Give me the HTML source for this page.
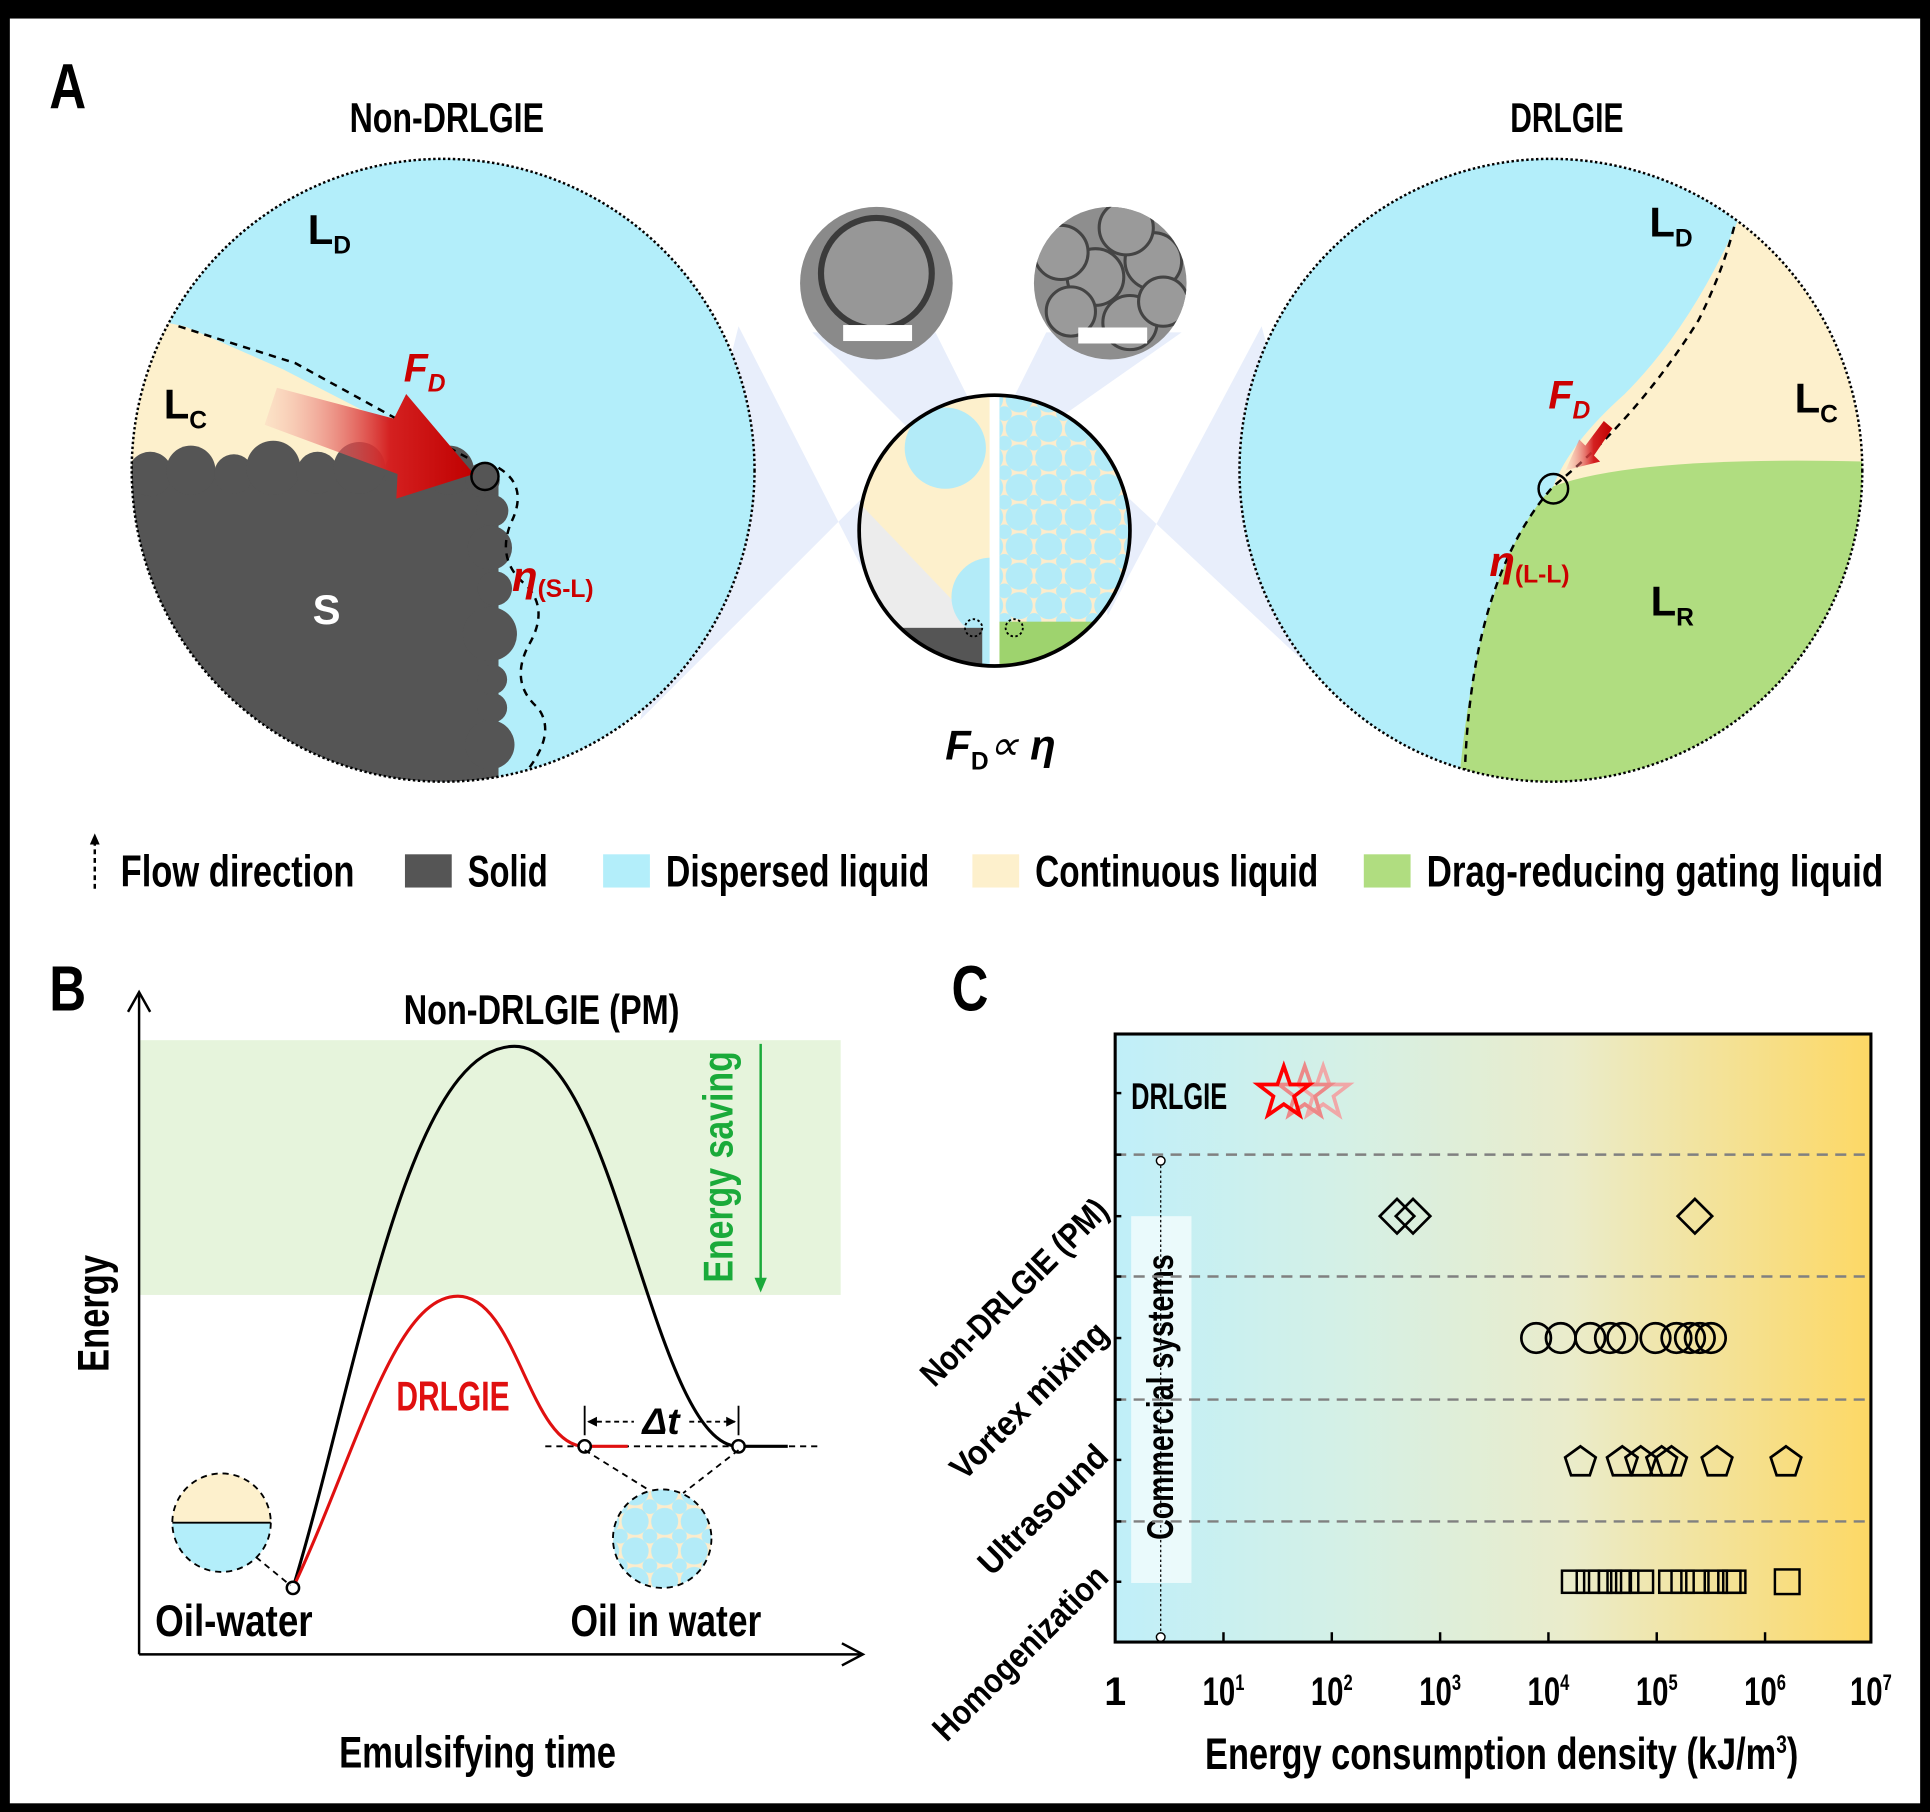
<!DOCTYPE html>
<html><head><meta charset="utf-8"><style>
html,body{margin:0;padding:0;background:#000}
svg{display:block}
text{font-family:"Liberation Sans Narrow","Liberation Sans",sans-serif;font-weight:bold}
</style></head><body>
<svg width="1930" height="1812" viewBox="0 0 1568 1472" xmlns="http://www.w3.org/2000/svg">
<defs>
<clipPath id="cl"><circle cx="360" cy="382" r="253"/></clipPath>
<clipPath id="cr"><circle cx="1260" cy="382" r="253"/></clipPath>
<clipPath id="cs"><circle cx="808" cy="431" r="110"/></clipPath>
<clipPath id="cs2"><circle cx="180" cy="1237" r="40"/></clipPath>
<clipPath id="cs3"><circle cx="538" cy="1250" r="40"/></clipPath>
<clipPath id="cs4"><circle cx="902" cy="230" r="62"/></clipPath>
<linearGradient id="ra" x1="0" y1="0" x2="1" y2="0"><stop offset="0" stop-color="#f7b0b0" stop-opacity="0.2"/><stop offset="0.6" stop-color="#d42020"/><stop offset="1" stop-color="#c00000"/></linearGradient>
<linearGradient id="bg" x1="0" y1="0" x2="1" y2="0"><stop offset="0" stop-color="#c0eff9"/><stop offset="0.3" stop-color="#d4f0e6"/><stop offset="0.6" stop-color="#eaeccb"/><stop offset="1" stop-color="#fdd865"/></linearGradient>
<pattern id="bub" width="24" height="24" patternUnits="userSpaceOnUse"><rect width="24" height="24" fill="#fdeccc"/><circle cx="12" cy="12" r="11" fill="#b3ebf8"/><circle cx="0" cy="0" r="6" fill="#b3ebf8"/><circle cx="24" cy="0" r="6" fill="#b3ebf8"/><circle cx="0" cy="24" r="6" fill="#b3ebf8"/><circle cx="24" cy="24" r="6" fill="#b3ebf8"/></pattern>
</defs>
<rect x="0" y="0" width="1568" height="1472" fill="#000"/>
<rect x="8" y="15" width="1552" height="1450" fill="#fff"/>

<text x="40" y="88" font-size="52" textLength="30" lengthAdjust="spacingAndGlyphs">A</text>
<text x="363" y="107" font-size="34" text-anchor="middle" textLength="158" lengthAdjust="spacingAndGlyphs">Non-DRLGIE</text>
<text x="1273" y="107" font-size="34" text-anchor="middle" textLength="92" lengthAdjust="spacingAndGlyphs">DRLGIE</text>

<polygon points="600,265 520,585 735,370 720,500" fill="#e8eefb"/>
<polygon points="1025,265 1110,585 880,370 900,500" fill="#e8eefb"/>
<polygon points="660,270 760,270 790,330 740,350" fill="#e8eefb"/>
<polygon points="850,270 960,270 860,340 820,330" fill="#e8eefb"/>

<g clip-path="url(#cl)">
<rect x="100" y="120" width="520" height="520" fill="#b3eefa"/>
<polygon points="100,255 150,265 230,300 395,385 100,385" fill="#fdf0cc"/>
<rect x="100" y="382" width="305" height="260" fill="#555"/>
<g fill="#555">
<circle cx="122" cy="385" r="18"/><circle cx="155" cy="382" r="20"/><circle cx="190" cy="385" r="16"/><circle cx="222" cy="380" r="22"/><circle cx="258" cy="384" r="17"/><circle cx="292" cy="380" r="21"/><circle cx="330" cy="384" r="18"/><circle cx="365" cy="382" r="20"/><circle cx="392" cy="390" r="14"/>
<circle cx="400" cy="415" r="13"/><circle cx="398" cy="445" r="18"/><circle cx="402" cy="478" r="14"/><circle cx="398" cy="515" r="22"/><circle cx="400" cy="552" r="12"/><circle cx="400" cy="575" r="12"/><circle cx="398" cy="605" r="20"/>
</g>
<path d="M145,265 L240,295 L380,372" stroke="#000" stroke-width="2" stroke-dasharray="6,5" fill="none"/>
<path d="M405,380 q25,15 10,45 q-12,30 12,50 q20,20 2,50 q-15,30 8,50 q15,20 -8,50 q-15,20 4,40" stroke="#000" stroke-width="2" stroke-dasharray="6,5" fill="none"/>
</g>
<circle cx="360" cy="382" r="253" fill="none" stroke="#000" stroke-width="2" stroke-dasharray="2,2"/>
<polygon points="225,315 320,340 330,320 385,385 322,405 323,385 215,345" fill="url(#ra)"/>
<circle cx="394" cy="387" r="11" fill="none" stroke="#000" stroke-width="2"/>
<text x="250" y="198" font-size="34">L<tspan font-size="20" dy="8">D</tspan></text>
<text x="133" y="340" font-size="34">L<tspan font-size="20" dy="8">C</tspan></text>
<text x="254" y="507" font-size="34" fill="#fff">S</text>
<text x="328" y="310" font-size="32" fill="#c00" font-style="italic">F<tspan font-size="20" dy="8">D</tspan></text>
<text x="416" y="480" font-size="34" fill="#c00" font-style="italic">η<tspan font-size="20" dy="5" font-style="normal">(S-L)</tspan></text>

<g clip-path="url(#cr)">
<rect x="1000" y="120" width="520" height="520" fill="#b3eefa"/>
<path d="M1420,160 Q1380,260 1320,320 Q1275,360 1262,395 L1515,378 L1520,150 Z" fill="#fdf0cc"/>
<path d="M1185,640 Q1200,460 1262,395 Q1330,370 1520,375 L1520,640 Z" fill="#b0dd80"/>
<path d="M1190,630 Q1195,470 1262,395 Q1330,340 1380,260 Q1400,220 1410,180" stroke="#000" stroke-width="2" stroke-dasharray="6,5" fill="none"/>
</g>
<circle cx="1260" cy="382" r="253" fill="none" stroke="#000" stroke-width="2" stroke-dasharray="2,2"/>
<polygon points="1310,348 1295,370 1300,375 1272,382 1283,357 1288,362 1303,342" fill="url(#ra)"/>
<circle cx="1262" cy="397" r="12" fill="none" stroke="#000" stroke-width="2"/>
<text x="1340" y="192" font-size="34">L<tspan font-size="20" dy="8">D</tspan></text>
<text x="1458" y="335" font-size="34">L<tspan font-size="20" dy="8">C</tspan></text>
<text x="1341" y="500" font-size="34">L<tspan font-size="20" dy="8">R</tspan></text>
<text x="1258" y="332" font-size="32" fill="#c00" font-style="italic">F<tspan font-size="20" dy="8">D</tspan></text>
<text x="1210" y="468" font-size="34" fill="#c00" font-style="italic">η<tspan font-size="20" dy="5" font-style="normal">(L-L)</tspan></text>

<circle cx="712" cy="230" r="62" fill="#8a8a8a"/>
<circle cx="712" cy="222" r="45" fill="#999" stroke="#333" stroke-width="5" opacity="0.9"/>
<rect x="685" y="264" width="56" height="13" fill="#fff"/>
<circle cx="902" cy="230" r="62" fill="#8e8e8e"/>
<g clip-path="url(#cs4)" fill="#9a9a9a" stroke="#444" stroke-width="2.5">
<circle cx="890" cy="225" r="23"/><circle cx="937" cy="212" r="23"/><circle cx="862" cy="205" r="22"/><circle cx="915" cy="185" r="22"/><circle cx="870" cy="253" r="20"/><circle cx="918" cy="262" r="22"/><circle cx="945" cy="245" r="20"/>
</g>
<rect x="876" y="266" width="56" height="13" fill="#fff"/>

<g clip-path="url(#cs)">
<rect x="690" y="315" width="118" height="235" fill="#fdf0cc"/>
<polygon points="690,400 800,515 690,515" fill="#ececec"/>
<circle cx="768" cy="364" r="33" fill="#b3ebf8"/>
<circle cx="805" cy="485" r="32" fill="#b3ebf8"/>
<rect x="690" y="510" width="110" height="45" fill="#555"/>
<rect x="798" y="500" width="10" height="60" fill="#b3ebf8"/>
<rect x="808" y="315" width="120" height="235" fill="url(#bub)"/>
<rect x="808" y="505" width="120" height="45" fill="#9ed36e"/>
<rect x="804" y="315" width="8" height="235" fill="#fff"/>
</g>
<circle cx="808" cy="431" r="110" fill="none" stroke="#000" stroke-width="3"/>
<circle cx="791" cy="510" r="7" fill="none" stroke="#000" stroke-width="1.5" stroke-dasharray="2,2"/>
<circle cx="824" cy="510" r="7" fill="none" stroke="#000" stroke-width="1.5" stroke-dasharray="2,2"/>
<text x="768" y="617" font-size="34" font-style="italic">F<tspan font-size="20" dy="8" font-style="normal">D</tspan><tspan dy="-8" font-weight="normal">∝</tspan> η</text>

<line x1="77" y1="683" x2="77" y2="725" stroke="#000" stroke-width="2" stroke-dasharray="4,3"/>
<polygon points="73,686 77,677 81,686" fill="#000"/>
<text x="98" y="720" font-size="36" textLength="190" lengthAdjust="spacingAndGlyphs">Flow direction</text>
<rect x="329" y="694" width="38" height="27" fill="#555"/>
<text x="380" y="720" font-size="36" textLength="65" lengthAdjust="spacingAndGlyphs">Solid</text>
<rect x="490" y="694" width="38" height="27" fill="#b3eefa"/>
<text x="541" y="720" font-size="36" textLength="214" lengthAdjust="spacingAndGlyphs">Dispersed liquid</text>
<rect x="790" y="694" width="38" height="27" fill="#fdf0cc"/>
<text x="841" y="720" font-size="36" textLength="230" lengthAdjust="spacingAndGlyphs">Continuous liquid</text>
<rect x="1108" y="694" width="38" height="27" fill="#b0dd80"/>
<text x="1159" y="720" font-size="36" textLength="371" lengthAdjust="spacingAndGlyphs">Drag-reducing gating liquid</text>

<text x="40" y="821" font-size="52" textLength="30" lengthAdjust="spacingAndGlyphs">B</text>
<rect x="113" y="845" width="570" height="207" fill="#e6f4dc"/>
<line x1="113" y1="1344" x2="113" y2="808" stroke="#000" stroke-width="2"/>
<polyline points="104,822 113,806 122,822" fill="none" stroke="#000" stroke-width="2"/>
<line x1="113" y1="1344" x2="700" y2="1344" stroke="#000" stroke-width="2"/>
<polyline points="684,1335 701,1344 684,1353" fill="none" stroke="#000" stroke-width="2"/>
<text x="440" y="832" font-size="34" text-anchor="middle" textLength="224" lengthAdjust="spacingAndGlyphs">Non-DRLGIE (PM)</text>
<line x1="443" y1="1175" x2="665" y2="1175" stroke="#000" stroke-width="1.5" stroke-dasharray="5,4"/>
<path d="M238,1290 C290,1120 330,850 418,850 C500,850 530,1175 600,1175 L640,1175" fill="none" stroke="#000" stroke-width="2.5"/>
<path d="M238,1290 C290,1180 320,1053 372,1053 C420,1053 430,1175 475,1175 L510,1175" fill="none" stroke="#e01010" stroke-width="2.5"/>
<circle cx="238" cy="1290" r="5" fill="#fff" stroke="#000" stroke-width="2"/>
<circle cx="475" cy="1175" r="5" fill="#fff" stroke="#000" stroke-width="2"/>
<circle cx="600" cy="1175" r="5" fill="#fff" stroke="#000" stroke-width="2"/>
<line x1="475" y1="1142" x2="475" y2="1166" stroke="#000" stroke-width="1.5"/>
<line x1="600" y1="1142" x2="600" y2="1166" stroke="#000" stroke-width="1.5"/>
<line x1="478" y1="1155" x2="515" y2="1155" stroke="#000" stroke-width="1.5" stroke-dasharray="4,3"/>
<line x1="560" y1="1155" x2="597" y2="1155" stroke="#000" stroke-width="1.5" stroke-dasharray="4,3"/>
<polygon points="477,1155 485,1151 485,1159" fill="#000"/><polygon points="598,1155 590,1151 590,1159" fill="#000"/>
<text x="537" y="1165" font-size="30" text-anchor="middle" font-style="italic">Δt</text>
<text x="368" y="1146" font-size="34" fill="#e01010" text-anchor="middle" textLength="92" lengthAdjust="spacingAndGlyphs">DRLGIE</text>
<text transform="translate(595,948) rotate(-90)" font-size="34" fill="#1aaa3a" text-anchor="middle" textLength="188" lengthAdjust="spacingAndGlyphs">Energy saving</text>
<line x1="618" y1="848" x2="618" y2="1045" stroke="#1aaa3a" stroke-width="2"/>
<polygon points="613,1038 618,1050 623,1038" fill="#1aaa3a"/>
<text transform="translate(88,1067) rotate(-90)" font-size="36" text-anchor="middle" textLength="95" lengthAdjust="spacingAndGlyphs">Energy</text>
<text x="388" y="1436" font-size="36" text-anchor="middle" textLength="225" lengthAdjust="spacingAndGlyphs">Emulsifying time</text>
<g clip-path="url(#cs2)"><rect x="140" y="1197" width="80" height="40" fill="#fdf0cc"/><rect x="140" y="1237" width="80" height="40" fill="#b3eefa"/></g>
<line x1="140" y1="1237" x2="220" y2="1237" stroke="#000" stroke-width="1.5"/>
<circle cx="180" cy="1237" r="40" fill="none" stroke="#000" stroke-width="1.5" stroke-dasharray="5,4"/>
<line x1="208" y1="1265" x2="236" y2="1288" stroke="#000" stroke-width="1.5" stroke-dasharray="5,4"/>
<g clip-path="url(#cs3)"><rect x="498" y="1210" width="80" height="80" fill="url(#bub)"/></g>
<circle cx="538" cy="1250" r="40" fill="none" stroke="#000" stroke-width="1.5" stroke-dasharray="5,4"/>
<line x1="475" y1="1178" x2="528" y2="1211" stroke="#000" stroke-width="1.5" stroke-dasharray="5,4"/>
<line x1="600" y1="1178" x2="555" y2="1213" stroke="#000" stroke-width="1.5" stroke-dasharray="5,4"/>
<text x="190" y="1329" font-size="36" text-anchor="middle" textLength="128" lengthAdjust="spacingAndGlyphs">Oil-water</text>
<text x="541" y="1329" font-size="36" text-anchor="middle" textLength="155" lengthAdjust="spacingAndGlyphs">Oil in water</text>

<text x="773" y="821" font-size="52" textLength="30" lengthAdjust="spacingAndGlyphs">C</text>
<rect x="906" y="840" width="614" height="494" fill="url(#bg)"/>
<rect x="919" y="988" width="49" height="298" fill="#fff" opacity="0.65"/>
<line x1="943" y1="943" x2="943" y2="1330" stroke="#000" stroke-width="1" stroke-dasharray="2,2"/>
<circle cx="943" cy="943" r="3.5" fill="#fff" stroke="#000" stroke-width="1.2"/>
<circle cx="943" cy="1330" r="3.5" fill="#fff" stroke="#000" stroke-width="1.2"/>
<text transform="translate(953,1135) rotate(-90)" font-size="30" text-anchor="middle" textLength="232" lengthAdjust="spacingAndGlyphs">Commercial systems</text>
<g stroke="#808080" stroke-width="2" stroke-dasharray="9,6">
<line x1="906" y1="938" x2="1520" y2="938"/><line x1="906" y1="1037" x2="1520" y2="1037"/><line x1="906" y1="1137" x2="1520" y2="1137"/><line x1="906" y1="1236" x2="1520" y2="1236"/>
</g>
<rect x="906" y="840" width="614" height="494" fill="none" stroke="#000" stroke-width="2.5"/>
<g stroke="#000" stroke-width="2">
<line x1="906" y1="888" x2="911" y2="888"/><line x1="906" y1="938" x2="911" y2="938"/><line x1="906" y1="988" x2="911" y2="988"/><line x1="906" y1="1037" x2="911" y2="1037"/><line x1="906" y1="1087" x2="911" y2="1087"/><line x1="906" y1="1137" x2="911" y2="1137"/><line x1="906" y1="1186" x2="911" y2="1186"/><line x1="906" y1="1236" x2="911" y2="1236"/><line x1="906" y1="1285" x2="911" y2="1285"/>
<line x1="994" y1="1334" x2="994" y2="1326"/><line x1="1082" y1="1334" x2="1082" y2="1326"/><line x1="1170" y1="1334" x2="1170" y2="1326"/><line x1="1258" y1="1334" x2="1258" y2="1326"/><line x1="1346" y1="1334" x2="1346" y2="1326"/><line x1="1434" y1="1334" x2="1434" y2="1326"/>
</g>
<text x="919" y="901" font-size="30" textLength="78" lengthAdjust="spacingAndGlyphs">DRLGIE</text>
<g font-size="28" text-anchor="end">
<text transform="translate(902,985) rotate(-45)" textLength="202" lengthAdjust="spacingAndGlyphs">Non-DRLGIE (PM)</text>
<text transform="translate(902,1085) rotate(-45)" textLength="168" lengthAdjust="spacingAndGlyphs">Vortex mixing</text>
<text transform="translate(902,1185) rotate(-45)" textLength="136" lengthAdjust="spacingAndGlyphs">Ultrasound</text>
<text transform="translate(902,1283) rotate(-45)" textLength="188" lengthAdjust="spacingAndGlyphs">Homogenization</text>
</g>
<g font-size="32" text-anchor="middle">
<text x="906" y="1385">1</text>
<text x="994" y="1385" textLength="34" lengthAdjust="spacingAndGlyphs">10<tspan font-size="18" dy="-12">1</tspan></text>
<text x="1082" y="1385" textLength="34" lengthAdjust="spacingAndGlyphs">10<tspan font-size="18" dy="-12">2</tspan></text>
<text x="1170" y="1385" textLength="34" lengthAdjust="spacingAndGlyphs">10<tspan font-size="18" dy="-12">3</tspan></text>
<text x="1258" y="1385" textLength="34" lengthAdjust="spacingAndGlyphs">10<tspan font-size="18" dy="-12">4</tspan></text>
<text x="1346" y="1385" textLength="34" lengthAdjust="spacingAndGlyphs">10<tspan font-size="18" dy="-12">5</tspan></text>
<text x="1434" y="1385" textLength="34" lengthAdjust="spacingAndGlyphs">10<tspan font-size="18" dy="-12">6</tspan></text>
<text x="1520" y="1385" textLength="34" lengthAdjust="spacingAndGlyphs">10<tspan font-size="18" dy="-12">7</tspan></text>
</g>
<text x="1220" y="1437" font-size="36" text-anchor="middle" textLength="482" lengthAdjust="spacingAndGlyphs">Energy consumption density (kJ/m<tspan font-size="20" dy="-13">3</tspan><tspan dy="13">)</tspan></text>
<g fill="none" stroke-width="3">
<polygon transform="translate(1075,888)" points="0,-22 5.2,-7 21,-7 8.4,2.6 13,18 0,9 -13,18 -8.4,2.6 -21,-7 -5.2,-7" stroke="#f0a8a8"/>
<polygon transform="translate(1060,888)" points="0,-22 5.2,-7 21,-7 8.4,2.6 13,18 0,9 -13,18 -8.4,2.6 -21,-7 -5.2,-7" stroke="#ec8888"/>
<polygon transform="translate(1043,888)" points="0,-22 5.2,-7 21,-7 8.4,2.6 13,18 0,9 -13,18 -8.4,2.6 -21,-7 -5.2,-7" stroke="#ff0000"/>
</g>
<g fill="none" stroke="#000" stroke-width="2.2">
<polygon points="1135,974 1149,988 1135,1002 1121,988"/><polygon points="1148,974 1162,988 1148,1002 1134,988"/><polygon points="1377,974 1391,988 1377,1002 1363,988"/>
<circle cx="1248" cy="1087" r="12"/><circle cx="1268" cy="1087" r="12"/><circle cx="1292" cy="1087" r="12"/><circle cx="1308" cy="1087" r="12"/><circle cx="1318" cy="1087" r="12"/><circle cx="1345" cy="1087" r="12"/><circle cx="1362" cy="1087" r="12"/><circle cx="1373" cy="1087" r="12"/><circle cx="1381" cy="1087" r="12"/><circle cx="1390" cy="1087" r="12"/>
</g>
<g fill="none" stroke="#000" stroke-width="2.2">
<polygon transform="translate(1284,1188)" points="0,-13 12.4,-4 7.6,10.5 -7.6,10.5 -12.4,-4"/>
<polygon transform="translate(1318,1188)" points="0,-13 12.4,-4 7.6,10.5 -7.6,10.5 -12.4,-4"/>
<polygon transform="translate(1333,1188)" points="0,-13 12.4,-4 7.6,10.5 -7.6,10.5 -12.4,-4"/>
<polygon transform="translate(1350,1188)" points="0,-13 12.4,-4 7.6,10.5 -7.6,10.5 -12.4,-4"/>
<polygon transform="translate(1358,1188)" points="0,-13 12.4,-4 7.6,10.5 -7.6,10.5 -12.4,-4"/>
<polygon transform="translate(1395,1188)" points="0,-13 12.4,-4 7.6,10.5 -7.6,10.5 -12.4,-4"/>
<polygon transform="translate(1451,1188)" points="0,-13 12.4,-4 7.6,10.5 -7.6,10.5 -12.4,-4"/>
</g>
<g fill="none" stroke="#000" stroke-width="2">
<rect x="1269" y="1276" width="18" height="18"/><rect x="1281" y="1276" width="18" height="18"/><rect x="1291" y="1276" width="18" height="18"/><rect x="1299" y="1276" width="18" height="18"/><rect x="1306" y="1276" width="18" height="18"/><rect x="1313" y="1276" width="18" height="18"/><rect x="1325" y="1276" width="18" height="18"/><rect x="1348" y="1276" width="18" height="18"/><rect x="1358" y="1276" width="18" height="18"/><rect x="1370" y="1276" width="18" height="18"/><rect x="1385" y="1276" width="18" height="18"/><rect x="1396" y="1276" width="18" height="18"/><rect x="1400" y="1276" width="18" height="18"/><rect x="1442" y="1275" width="20" height="20"/>
</g>
</svg>
</body></html>
